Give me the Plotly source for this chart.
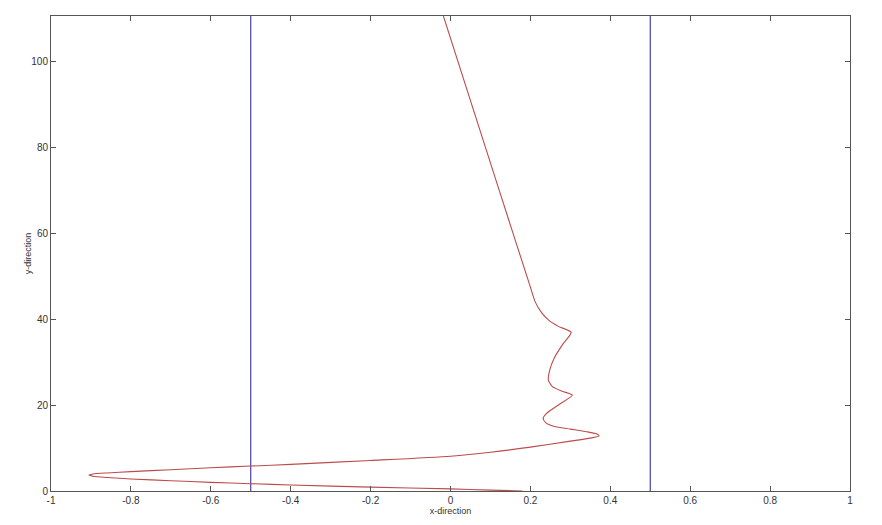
import plotly.graph_objects as go

# Trajectory (x, y)
traj_x = [0.18, 0.10, 0.00, -0.20, -0.40, -0.50, -0.60, -0.70, -0.80, -0.86, -0.895, -0.905,
          -0.895, -0.86, -0.80, -0.70, -0.60, -0.50, -0.40, -0.20, 0.00, 0.10, 0.20, 0.30, 0.35,
          0.372, 0.365, 0.34, 0.30, 0.26, 0.238, 0.232, 0.24, 0.27, 0.305,
          0.28, 0.255, 0.245, 0.248, 0.26, 0.28, 0.302,
          0.27, 0.245, 0.228, 0.212, 0.198, 0.12, -0.023]
traj_y = [0.0, 0.2, 0.5, 0.9, 1.4, 1.7, 2.0, 2.4, 2.8, 3.15, 3.45, 3.7,
          3.95, 4.2, 4.5, 4.95, 5.4, 5.8, 6.2, 7.1, 8.1, 9.0, 10.2, 11.6, 12.3,
          12.8, 13.3, 13.8, 14.4, 15.0, 15.9, 16.9, 18.0, 20.0, 22.3,
          23.2, 24.3, 25.8, 28.0, 31.0, 34.0, 36.9,
          38.3, 39.8, 41.5, 44.0, 48.0, 70.5, 112.0]

# Vertical boundary lines
boundary_x = [-0.5, 0.5]

x_ticks = [-1, -0.8, -0.6, -0.4, -0.2, 0, 0.2, 0.4, 0.6, 0.8, 1]
x_tick_labels = ["-1", "-0.8", "-0.6", "-0.4", "-0.2", "0", "0.2", "0.4", "0.6", "0.8", "1"]
y_ticks = [0, 20, 40, 60, 80, 100]
y_tick_labels = ["0", "20", "40", "60", "80", "100"]

x_range = [-1, 1]
y_range = [0, 110.5]

fig = go.Figure()

for bx in boundary_x:
    fig.add_trace(go.Scatter(x=[bx, bx], y=y_range, mode="lines",
                             line=dict(color="#30309a", width=1.1),
                             showlegend=False, hoverinfo="skip"))

fig.add_trace(go.Scatter(x=traj_x, y=traj_y, mode="lines",
                         line=dict(color="#bc4c4c", width=1.1, shape="spline", smoothing=0.6),
                         showlegend=False))

axis_common = dict(showgrid=False, zeroline=False, showline=True, linecolor="#555555",
                   linewidth=1, mirror="ticks", ticks="inside", ticklen=5, automargin=False,
                   tickcolor="#555555", tickfont=dict(family="Liberation Sans", size=10, color="#333333"))

title_font = dict(family="Liberation Sans", size=9, color="#333333")

fig.update_xaxes(range=x_range, tickvals=x_ticks, ticktext=x_tick_labels,
                 title=dict(text="x-direction", font=title_font, standoff=0),
                 **axis_common)
fig.update_yaxes(range=y_range, tickvals=y_ticks, ticktext=y_tick_labels,
                 **axis_common)

fig.add_annotation(text="y-direction", xref="paper", yref="paper", x=-0.029, y=0.5,
                   xanchor="center", yanchor="middle", textangle=-90, showarrow=False,
                   font=title_font)

fig.update_layout(width=874, height=517,
                  margin=dict(l=43, r=32, t=8, b=34),
                  plot_bgcolor="white", paper_bgcolor="white",
                  showlegend=False)

fig.write_html("out.html")
